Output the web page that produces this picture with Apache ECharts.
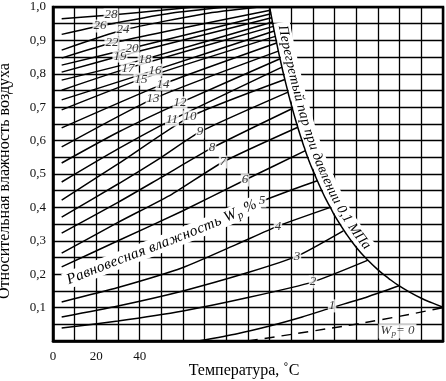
<!DOCTYPE html>
<html><head><meta charset="utf-8">
<script src="https://cdn.jsdelivr.net/npm/echarts@6.0.0/dist/echarts.min.js"></script>
<style>html,body{margin:0;padding:0;background:#fff}#chart{width:446px;height:381px}</style>
</head><body><div id="chart"></div>
<script>
// ----------------- data -----------------
const xLabelValues = [0, 20, 40];
const yLabelValues = [0.1, 0.2, 0.3, 0.4, 0.5, 0.6, 0.7, 0.8, 0.9, 1.0];

// equilibrium moisture curves: [temperature °C, relative humidity]
const w1  = [[67,0],[85,0.022],[100,0.045],[115,0.072],[128.8,0.1],[145,0.132],[160,0.166]];
const w2  = [[4,0.039],[30,0.06],[60,0.09],[90,0.13],[120,0.177],[145.4,0.242]];
const w3  = [[4,0.072],[30,0.105],[60,0.15],[90,0.205],[112.6,0.254],[134,0.33]];
const w4  = [[4,0.117],[30,0.16],[60,0.22],[85,0.29],[103.8,0.344],[128,0.40]];
const w5  = [[4,0.174],[25,0.228],[50,0.29],[75,0.355],[96.5,0.419],[110,0.452],[122,0.48]];
const w6  = [[4,0.222],[30,0.30],[60,0.39],[88.6,0.482],[116.5,0.57]];
const w7  = [[4,0.263],[30,0.355],[55,0.44],[78.5,0.536],[113,0.64]];
const w8  = [[4,0.323],[30,0.415],[50,0.49],[73.4,0.578],[110.5,0.696]];
const w9  = [[4,0.371],[30,0.47],[50,0.55],[67.8,0.626],[108.5,0.745]];
const w10 = [[4,0.422],[30,0.53],[63.2,0.671],[107,0.783]];
const w11 = [[4,0.476],[30,0.575],[54.9,0.662],[105.7,0.82]];
const w12 = [[4,0.533],[30,0.625],[58.6,0.713],[104.8,0.845]];
const w13 = [[4,0.581],[46.2,0.725],[104,0.868]];
const w14 = [[4,0.638],[50.8,0.769],[103.2,0.892]];
const w15 = [[4,0.692],[40.6,0.784],[102.6,0.912]];
const w16 = [[4,0.722],[47.1,0.811],[102.1,0.928]];
const w17 = [[4,0.751],[34.6,0.817],[101.7,0.942]];
const w18 = [[4,0.781],[42.5,0.844],[101.3,0.955]];
const w19 = [[4,0.805],[30.9,0.853],[100.9,0.968]];
const w20 = [[4,0.826],[36.5,0.877],[100.6,0.98]];
const w22 = [[4,0.847],[27.2,0.892],[100.3,0.99]];
const w24 = [[4,0.871],[32.3,0.931],[70,0.98],[95,1.0]];
const w26 = [[4,0.918],[21.7,0.943],[55,0.982],[80,1.0]];
const w28 = [[4,0.965],[26.8,0.976],[50,0.99],[65,1.0]];

const curveIds  = [1,2,3,4,5,6,7,8,9,10,11,12,13,14,15,16,17,18,19,20,22,24,26,28];
const curveData = [w1,w2,w3,w4,w5,w6,w7,w8,w9,w10,w11,w12,w13,w14,w15,w16,w17,w18,w19,w20,w22,w24,w26,w28];
// where each curve's number is written (temperature, humidity)
const labelAt = [[128.8,0.105],[120,0.177],[112.6,0.254],[103.8,0.344],[96.5,0.419],[88.6,0.482],
  [78.5,0.536],[73.4,0.578],[67.8,0.626],[63.2,0.671],[54.9,0.662],[58.6,0.713],[46.2,0.725],
  [50.8,0.769],[40.6,0.784],[47.1,0.811],[34.6,0.817],[42.5,0.844],[30.9,0.853],[36.5,0.877],
  [27.2,0.892],[32.3,0.931],[21.7,0.943],[26.8,0.976]];

// superheated steam limit at 0.1 MPa
const boundaryT   = [100,100.5,101,101.5,102,103,104,105,106,107,108,109,110,112,114,116,118,120,122,124,126,128,130,135,140,145,150,155,160,165,170,175,180];
const boundaryPhi = [1.0,0.982,0.965,0.948,0.931,0.899,0.868,0.839,0.810,0.783,0.757,0.731,0.707,0.661,0.618,0.579,0.542,0.510,0.480,0.451,0.424,0.400,0.375,0.324,0.280,0.244,0.213,0.187,0.164,0.145,0.128,0.114,0.101];

// Wp = 0 dashed line
const zeroT   = [90,120,150,180];
const zeroPhi = [0,0.03,0.062,0.1];
const zeroLabelAt = [159,0.03];

// ----------------- chart -----------------
const SERIF = "'Liberation Serif','Times New Roman',serif";
const chart = echarts.init(document.getElementById('chart'), null, {renderer:'canvas'});

const series = [];
curveData.forEach((pts, i) => {
  let data = pts;
  if (curveIds[i] === 5) data = pts.filter(p => p[0] >= 96.5);
  series.push({type:'line', data: data, smooth:0.2, symbol:'none', silent:true,
    lineStyle:{color:'#000', width:1.5}, z:2, clip:true});
});
series.push({type:'line', data: boundaryT.map((t,i)=>[t,boundaryPhi[i]]), smooth:true, symbol:'none', silent:true,
  lineStyle:{color:'#000', width:1.5}, z:3});
series.push({type:'line', data: zeroT.map((t,i)=>[t,zeroPhi[i]]), smooth:true, symbol:'none', silent:true,
  lineStyle:{color:'#000', width:1.4, type:[10,7]}, z:2});
series.push({type:'scatter', symbolSize:0, silent:true, z:6,
  data: curveIds.map((id,i)=>({value: labelAt[i], name: String(id)})),
  label:{show:true, position:'inside', formatter: p => p.name, fontFamily:SERIF, fontStyle:'italic',
    fontSize:13, color:'#000', backgroundColor:'#fff', padding:[0,1]}});
series.push({type:'scatter', symbolSize:0, silent:true, z:6,
  data:[{value: zeroLabelAt}],
  label:{show:true, position:'inside', formatter:'{a|W}{b|p}{a|= 0}', backgroundColor:'#fff', padding:[0,2],
    rich:{a:{fontFamily:SERIF, fontStyle:'italic', fontSize:13, color:'#000'},
          b:{fontFamily:SERIF, fontStyle:'italic', fontSize:9, color:'#000', padding:[6,0,0,0]}}}});

const option = {
  animation:false,
  backgroundColor:'#fff',
  grid:{left:53, right:3, top:7, bottom:40, show:true, borderColor:'#000', borderWidth:2.5, containLabel:false, outerBoundsMode:'none'},
  xAxis:{type:'value', min:0, max:180, interval:10,
    name:'Температура, ˚C', nameLocation:'middle', nameGap:22, nameMoveOverlap:false,
    nameTextStyle:{fontFamily:SERIF, fontSize:16, color:'#000', padding:[0,8,0,0]},
    axisLine:{show:true, lineStyle:{color:'#000', width:2.5}}, axisTick:{show:false},
    axisLabel:{margin:9, fontFamily:SERIF, fontSize:13, color:'#111',
      formatter: v => xLabelValues.includes(Math.round(v)) ? String(Math.round(v)) : ''},
    splitLine:{show:true, lineStyle:{color:'#000', width:1.3}}},
  yAxis:{type:'value', min:0, max:1, interval:0.05,
    name:'Относительная влажность воздуха', nameLocation:'middle', nameGap:40, nameRotate:90, nameMoveOverlap:false,
    nameTextStyle:{fontFamily:SERIF, fontSize:16, color:'#000', padding:[0,14,0,0]},
    axisLine:{show:true, lineStyle:{color:'#000', width:2.5}}, axisTick:{show:false},
    axisLabel:{margin:7, fontFamily:SERIF, fontSize:13, color:'#111',
      formatter: v => { const r = Math.round(v*100)/100;
        return yLabelValues.some(y => Math.abs(y-r) < 1e-6) ? r.toFixed(1).replace('.', ',') : ''; }},
    splitLine:{show:true, lineStyle:{color:'#000', width:1.3}}},
  series: series
};
chart.setOption(option);

// ---------- text laid along a curve ----------
const measureCtx = document.createElement('canvas').getContext('2d');
function toPx(pts){ return pts.map(p => chart.convertToPixel({gridIndex:0}, p)); }
function densify(px, n){
  const out=[];
  for(let i=0;i<px.length-1;i++){
    const p0=px[Math.max(0,i-1)], p1=px[i], p2=px[i+1], p3=px[Math.min(px.length-1,i+2)];
    for(let k=0;k<n;k++){
      const t=k/n, t2=t*t, t3=t2*t;
      const f=(a,b,c,d)=>0.5*((2*b)+(-a+c)*t+(2*a-5*b+4*c-d)*t2+(-a+3*b-3*c+d)*t3);
      out.push([f(p0[0],p1[0],p2[0],p3[0]), f(p0[1],p1[1],p2[1],p3[1])]);
    }
  }
  out.push(px[px.length-1]);
  return out;
}
function pathTools(px){
  const cum=[0];
  for(let i=1;i<px.length;i++) cum.push(cum[i-1]+Math.hypot(px[i][0]-px[i-1][0], px[i][1]-px[i-1][1]));
  function at(s){
    let i=1; while(i<px.length-1 && cum[i]<s) i++;
    const seg=cum[i]-cum[i-1]||1, f=(s-cum[i-1])/seg;
    const dx=(px[i][0]-px[i-1][0])/seg, dy=(px[i][1]-px[i-1][1])/seg;
    return {x:px[i-1][0]+f*(px[i][0]-px[i-1][0]), y:px[i-1][1]+f*(px[i][1]-px[i-1][1]), dx, dy};
  }
  function sAtX(x){ for(let i=1;i<px.length;i++){ if(px[i][0]>=x){const f=(x-px[i-1][0])/((px[i][0]-px[i-1][0])||1); return cum[i-1]+f*(cum[i]-cum[i-1]);} } return cum[cum.length-1]; }
  function sAtY(y){ for(let i=1;i<px.length;i++){ if(px[i][1]>=y){const f=(y-px[i-1][1])/((px[i][1]-px[i-1][1])||1); return cum[i-1]+f*(cum[i]-cum[i-1]);} } return cum[cum.length-1]; }
  return {at, sAtX, sAtY, total:cum[cum.length-1]};
}
function layText(tools, parts, s0, offset, bandWidth, els){
  let s=s0;
  const txt=[];
  parts.forEach(part=>{
    const font = 'italic ' + part.size + "px 'Liberation Serif'";
    measureCtx.font = font;
    for(const ch of part.t){
      const w=measureCtx.measureText(ch).width*(part.stretch||1);
      const p=tools.at(s+w/2);
      const ux=p.dy, uy=-p.dx;
      const off=offset+(part.shift||0);
      txt.push({type:'text', x:p.x+ux*off, y:p.y+uy*off, rotation:-Math.atan2(p.dy,p.dx), z:20, silent:true,
        style:{text:ch, font:font, fill:'#000', align:'center', verticalAlign:'middle'}});
      s+=w;
    }
  });
  const band=[];
  for(let q=s0-3;q<=s+3;q+=2){ const p=tools.at(q); band.push([p.x+p.dy*offset, p.y-p.dx*offset]); }
  els.push({type:'polyline', shape:{points:band}, z:1, silent:true, style:{stroke:'#fff', lineWidth:bandWidth, fill:null, lineCap:'butt'}});
  txt.forEach(t=>els.push(t));
}

const els=[];
const c5 = pathTools(densify(toPx(w5), 12));
layText(c5, [{t:'Равновесная влажность W', size:15, stretch:1.05},{t:'p', size:11, shift:-4},{t:' %', size:15}],
  c5.sAtX(chart.convertToPixel({gridIndex:0},[6.5,0])[0]), 0, 17, els);
const bd = pathTools(densify(toPx(boundaryT.map((t,i)=>[t,boundaryPhi[i]])), 6));
layText(bd, [{t:'Перегретый пар при давлении 0,1 МПа', size:14, stretch:1.05}], bd.sAtY(27), 9, 16, els);

chart.setOption({graphic:{elements:els}});
</script>
</body></html>
